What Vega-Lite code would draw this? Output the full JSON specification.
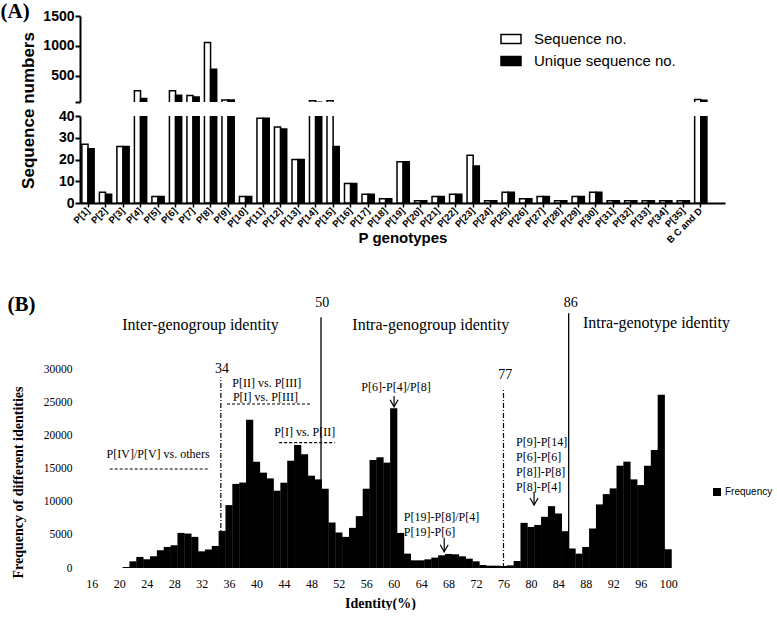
{
  "$schema": "https://vega.github.io/schema/vega-lite/v6.json",
  "padding": 0,
  "spacing": 14,
  "bounds": "flush",
  "config": {
    "view": {"stroke": null},
    "axis": {"labelColor": "black", "titleColor": "black", "domainColor": "black", "tickColor": "black", "grid": false},
    "legend": {"labelColor": "black"}
  },
  "resolve": {
    "scale": {"x": "independent", "y": "independent", "fill": "independent"},
    "legend": {"fill": "independent"},
    "axis": {"x": "independent", "y": "independent"}
  },
  "datasets": {
    "seqs": [
      {"g": "P[1]", "s": "Sequence no.", "n": 27}, {"g": "P[1]", "s": "Unique sequence no.", "n": 25},
      {"g": "P[2]", "s": "Sequence no.", "n": 5}, {"g": "P[2]", "s": "Unique sequence no.", "n": 4},
      {"g": "P[3]", "s": "Sequence no.", "n": 26}, {"g": "P[3]", "s": "Unique sequence no.", "n": 26},
      {"g": "P[4]", "s": "Sequence no.", "n": 242}, {"g": "P[4]", "s": "Unique sequence no.", "n": 114},
      {"g": "P[5]", "s": "Sequence no.", "n": 3}, {"g": "P[5]", "s": "Unique sequence no.", "n": 3},
      {"g": "P[6]", "s": "Sequence no.", "n": 242}, {"g": "P[6]", "s": "Unique sequence no.", "n": 170},
      {"g": "P[7]", "s": "Sequence no.", "n": 164}, {"g": "P[7]", "s": "Unique sequence no.", "n": 141},
      {"g": "P[8]", "s": "Sequence no.", "n": 1053}, {"g": "P[8]", "s": "Unique sequence no.", "n": 606},
      {"g": "P[9]", "s": "Sequence no.", "n": 90}, {"g": "P[9]", "s": "Unique sequence no.", "n": 90},
      {"g": "P[10]", "s": "Sequence no.", "n": 3}, {"g": "P[10]", "s": "Unique sequence no.", "n": 3},
      {"g": "P[11]", "s": "Sequence no.", "n": 39}, {"g": "P[11]", "s": "Unique sequence no.", "n": 39},
      {"g": "P[12]", "s": "Sequence no.", "n": 35}, {"g": "P[12]", "s": "Unique sequence no.", "n": 34},
      {"g": "P[13]", "s": "Sequence no.", "n": 20}, {"g": "P[13]", "s": "Unique sequence no.", "n": 20},
      {"g": "P[14]", "s": "Sequence no.", "n": 75}, {"g": "P[14]", "s": "Unique sequence no.", "n": 50},
      {"g": "P[15]", "s": "Sequence no.", "n": 75}, {"g": "P[15]", "s": "Unique sequence no.", "n": 26},
      {"g": "P[16]", "s": "Sequence no.", "n": 9}, {"g": "P[16]", "s": "Unique sequence no.", "n": 9},
      {"g": "P[17]", "s": "Sequence no.", "n": 4}, {"g": "P[17]", "s": "Unique sequence no.", "n": 4},
      {"g": "P[18]", "s": "Sequence no.", "n": 2}, {"g": "P[18]", "s": "Unique sequence no.", "n": 2},
      {"g": "P[19]", "s": "Sequence no.", "n": 19}, {"g": "P[19]", "s": "Unique sequence no.", "n": 19},
      {"g": "P[20]", "s": "Sequence no.", "n": 1}, {"g": "P[20]", "s": "Unique sequence no.", "n": 1},
      {"g": "P[21]", "s": "Sequence no.", "n": 3}, {"g": "P[21]", "s": "Unique sequence no.", "n": 3},
      {"g": "P[22]", "s": "Sequence no.", "n": 4}, {"g": "P[22]", "s": "Unique sequence no.", "n": 4},
      {"g": "P[23]", "s": "Sequence no.", "n": 22}, {"g": "P[23]", "s": "Unique sequence no.", "n": 17},
      {"g": "P[24]", "s": "Sequence no.", "n": 1}, {"g": "P[24]", "s": "Unique sequence no.", "n": 1},
      {"g": "P[25]", "s": "Sequence no.", "n": 5}, {"g": "P[25]", "s": "Unique sequence no.", "n": 5},
      {"g": "P[26]", "s": "Sequence no.", "n": 2}, {"g": "P[26]", "s": "Unique sequence no.", "n": 2},
      {"g": "P[27]", "s": "Sequence no.", "n": 3}, {"g": "P[27]", "s": "Unique sequence no.", "n": 3},
      {"g": "P[28]", "s": "Sequence no.", "n": 1}, {"g": "P[28]", "s": "Unique sequence no.", "n": 1},
      {"g": "P[29]", "s": "Sequence no.", "n": 3}, {"g": "P[29]", "s": "Unique sequence no.", "n": 3},
      {"g": "P[30]", "s": "Sequence no.", "n": 5}, {"g": "P[30]", "s": "Unique sequence no.", "n": 5},
      {"g": "P[31]", "s": "Sequence no.", "n": 1}, {"g": "P[31]", "s": "Unique sequence no.", "n": 1},
      {"g": "P[32]", "s": "Sequence no.", "n": 1}, {"g": "P[32]", "s": "Unique sequence no.", "n": 1},
      {"g": "P[33]", "s": "Sequence no.", "n": 1}, {"g": "P[33]", "s": "Unique sequence no.", "n": 1},
      {"g": "P[34]", "s": "Sequence no.", "n": 1}, {"g": "P[34]", "s": "Unique sequence no.", "n": 1},
      {"g": "P[35]", "s": "Sequence no.", "n": 1}, {"g": "P[35]", "s": "Unique sequence no.", "n": 1},
      {"g": "B C and D", "s": "Sequence no.", "n": 95}, {"g": "B C and D", "s": "Unique sequence no.", "n": 85}
    ],
    "ident": [
      {"identity": 21, "freq": 150}, {"identity": 22, "freq": 1010}, {"identity": 23, "freq": 1670},
      {"identity": 24, "freq": 1310}, {"identity": 25, "freq": 1770}, {"identity": 26, "freq": 2680},
      {"identity": 27, "freq": 3180}, {"identity": 28, "freq": 3430}, {"identity": 29, "freq": 5300},
      {"identity": 30, "freq": 5200}, {"identity": 31, "freq": 4700}, {"identity": 32, "freq": 2520},
      {"identity": 33, "freq": 2780}, {"identity": 34, "freq": 3330}, {"identity": 35, "freq": 5600},
      {"identity": 36, "freq": 9500}, {"identity": 37, "freq": 12700}, {"identity": 38, "freq": 12900},
      {"identity": 39, "freq": 22400}, {"identity": 40, "freq": 16060}, {"identity": 41, "freq": 14400},
      {"identity": 42, "freq": 13530}, {"identity": 43, "freq": 11670}, {"identity": 44, "freq": 12880},
      {"identity": 45, "freq": 16200}, {"identity": 46, "freq": 18580}, {"identity": 47, "freq": 17170},
      {"identity": 48, "freq": 13940}, {"identity": 49, "freq": 13380}, {"identity": 50, "freq": 11970},
      {"identity": 51, "freq": 6870}, {"identity": 52, "freq": 5350}, {"identity": 53, "freq": 4700},
      {"identity": 54, "freq": 6060}, {"identity": 55, "freq": 7830}, {"identity": 56, "freq": 11970},
      {"identity": 57, "freq": 16310}, {"identity": 58, "freq": 16720}, {"identity": 59, "freq": 15910},
      {"identity": 60, "freq": 24140}, {"identity": 61, "freq": 5300}, {"identity": 62, "freq": 2170},
      {"identity": 63, "freq": 1160}, {"identity": 64, "freq": 1160}, {"identity": 65, "freq": 1310},
      {"identity": 66, "freq": 1570}, {"identity": 67, "freq": 1920}, {"identity": 68, "freq": 2120},
      {"identity": 69, "freq": 2070}, {"identity": 70, "freq": 1770}, {"identity": 71, "freq": 1410},
      {"identity": 72, "freq": 1010}, {"identity": 73, "freq": 450}, {"identity": 74, "freq": 350},
      {"identity": 75, "freq": 350}, {"identity": 76, "freq": 300}, {"identity": 77, "freq": 400},
      {"identity": 78, "freq": 1060}, {"identity": 79, "freq": 6820}, {"identity": 80, "freq": 6200},
      {"identity": 81, "freq": 6500}, {"identity": 82, "freq": 7730}, {"identity": 83, "freq": 9340},
      {"identity": 84, "freq": 8230}, {"identity": 85, "freq": 5560}, {"identity": 86, "freq": 2950},
      {"identity": 87, "freq": 2170}, {"identity": 88, "freq": 3180}, {"identity": 89, "freq": 5960},
      {"identity": 90, "freq": 9600}, {"identity": 91, "freq": 11160}, {"identity": 92, "freq": 12020},
      {"identity": 93, "freq": 15450}, {"identity": 94, "freq": 16060}, {"identity": 95, "freq": 13380},
      {"identity": 96, "freq": 12520}, {"identity": 97, "freq": 15450}, {"identity": 98, "freq": 17830},
      {"identity": 99, "freq": 26160}, {"identity": 100, "freq": 2830}
    ]
  },
  "vconcat": [
    {
      "width": 645,
      "height": 86,
      "data": {"name": "seqs"},
      "mark": {"type": "bar", "clip": true, "stroke": "black", "strokeWidth": 1.5},
      "encoding": {
        "x": {"field": "g", "type": "nominal", "sort": null, "scale": {"paddingInner": 0.3, "paddingOuter": 0.57, "align": 0.094}, "axis": null},
        "xOffset": {"field": "s", "type": "nominal", "sort": ["Sequence no.", "Unique sequence no."]},
        "y": {
          "field": "n", "type": "quantitative",
          "scale": {"domain": [55, 1500], "zero": false, "nice": false},
          "axis": {
            "values": [55, 500, 1000, 1500], "labelExpr": "datum.value < 100 ? '' : datum.label", "format": "d",
            "labelFont": "Liberation Sans", "labelFontWeight": "bold", "labelFontSize": 14, "labelPadding": 1,
            "domainWidth": 2, "tickWidth": 2, "tickSize": 5,
            "title": "(A)", "titleAngle": 0, "titleX": -80, "titleY": -16, "titleAlign": "left", "titleBaseline": "top",
            "titleFont": "Liberation Serif", "titleFontSize": 21, "titleFontWeight": "bold"
          }
        },
        "fill": {
          "field": "s", "type": "nominal",
          "scale": {"domain": ["Sequence no.", "Unique sequence no."], "range": ["white", "black"]},
          "legend": {
            "title": null, "orient": "none", "legendX": 420, "legendY": 12, "padding": 0,
            "symbolType": "M-1,-0.45H1V0.45H-1Z", "symbolSize": 400, "symbolStrokeColor": "black", "symbolStrokeWidth": 1.5,
            "labelFont": "Liberation Sans", "labelFontSize": 15, "labelOffset": 12, "rowPadding": 3, "labelColor": "black"
          }
        }
      }
    },
    {
      "width": 645,
      "height": 87,
      "data": {"name": "seqs"},
      "mark": {"type": "bar", "clip": true, "stroke": "black", "strokeWidth": 1.5},
      "encoding": {
        "x": {
          "field": "g", "type": "nominal", "sort": null,
          "scale": {"paddingInner": 0.3, "paddingOuter": 0.57, "align": 0.094},
          "axis": {
            "labelAngle": -45, "labelAlign": "right", "labelBaseline": "middle", "labelOverlap": false,
            "labelFont": "Liberation Sans", "labelFontWeight": "bold", "labelFontSize": 9.5, "labelPadding": 2,
            "tickSize": 4, "tickWidth": 1.5, "domainWidth": 2,
            "title": "P genotypes", "titleFont": "Liberation Sans", "titleFontWeight": "bold", "titleFontSize": 15,
            "titleY": 34, "titleBaseline": "middle"
          }
        },
        "xOffset": {"field": "s", "type": "nominal", "sort": ["Sequence no.", "Unique sequence no."]},
        "y": {
          "field": "n", "type": "quantitative",
          "scale": {"domain": [0, 40], "nice": false},
          "axis": {
            "values": [0, 10, 20, 30, 40], "format": "d",
            "labelFont": "Liberation Sans", "labelFontWeight": "bold", "labelFontSize": 14, "labelPadding": 1,
            "domainWidth": 2, "tickWidth": 2, "tickSize": 5,
            "title": "Sequence numbers", "titleX": -52, "titleY": -6, "titleAngle": -90, "titleAlign": "center", "titleBaseline": "middle",
            "titleFont": "Liberation Sans", "titleFontSize": 17, "titleFontWeight": "bold"
          }
        },
        "fill": {
          "field": "s", "type": "nominal",
          "scale": {"domain": ["Sequence no.", "Unique sequence no."], "range": ["white", "black"]},
          "legend": null
        }
      }
    },
    {
      "width": 600,
      "height": 351,
      "encoding": {
        "x": {
          "field": "identity", "type": "quantitative",
          "scale": {"domain": [15, 101], "nice": false, "zero": false},
          "axis": {
            "values": [16, 20, 24, 28, 32, 36, 40, 44, 48, 52, 56, 60, 64, 68, 72, 76, 80, 84, 88, 92, 96, 100],
            "domain": false, "ticks": false, "labelPadding": 10, "labelOverlap": false, "labelFlush": false,
            "labelFont": "Liberation Serif", "labelFontSize": 12,
            "title": "Identity(%)", "titleFont": "Liberation Serif", "titleFontSize": 14, "titleFontWeight": "bold", "titlePadding": 7
          }
        },
        "y": {
          "field": "freq", "type": "quantitative",
          "scale": {"domain": [0, 53000], "nice": false},
          "axis": {
            "values": [0, 5000, 10000, 15000, 20000, 25000, 30000], "format": "d",
            "domain": false, "ticks": false, "labelPadding": 8, "labelOverlap": false,
            "labelFont": "Liberation Serif", "labelFontSize": 11.5,
            "title": "Frequency of different identities", "titleFont": "Liberation Serif", "titleFontSize": 14, "titleFontWeight": "bold",
            "titleX": -62, "titleY": 265, "titleAngle": -90, "titleAlign": "center", "titleBaseline": "middle"
          }
        }
      },
      "layer": [
        {
          "data": {"values": [{"identity": 34.8, "freq": 0, "freq2": 28800}, {"identity": 76.0, "freq": 0, "freq2": 26880}]},
          "mark": {"type": "rule", "color": "black", "strokeWidth": 1.2, "strokeDash": [5, 2, 1, 2]},
          "encoding": {"y2": {"field": "freq2"}}
        },
        {
          "data": {"name": "ident"},
          "mark": {"type": "bar", "width": 7.2},
          "encoding": {
            "fill": {
              "datum": "Frequency",
              "scale": {"domain": ["Frequency"], "range": ["black"]},
              "legend": {
                "title": null, "orient": "none", "legendX": 632, "legendY": 270, "padding": 0,
                "symbolType": "square", "symbolSize": 64, "labelOffset": 3,
                "labelFont": "Liberation Sans", "labelFontSize": 10, "labelColor": "black"
              }
            }
          }
        },
        {
          "data": {"values": [{"identity": 49.4, "freq": 0, "freq2": 37860}, {"identity": 85.5, "freq": 0, "freq2": 38460}]},
          "mark": {"type": "rule", "color": "black", "strokeWidth": 1.3},
          "encoding": {"y2": {"field": "freq2"}}
        },
        {
          "data": {"values": [{"identity": 18.6, "identity2": 33.2, "freq": 14950}, {"identity": 35.7, "identity2": 48.1, "freq": 24760}, {"identity": 43.3, "identity2": 51.4, "freq": 18920}]},
          "mark": {"type": "rule", "color": "black", "strokeWidth": 1.2, "strokeDash": [3, 2]},
          "encoding": {"x2": {"field": "identity2"}}
        },
        {
          "data": {"values": [{"identity": 60.05, "freq": 25970, "freq2": 24360}, {"identity": 67.36, "freq": 4480, "freq2": 2460}, {"identity": 80.46, "freq": 11520, "freq2": 9510}]},
          "mark": {"type": "rule", "color": "black", "strokeWidth": 1.2},
          "encoding": {"y2": {"field": "freq2"}}
        },
        {
          "data": {"values": [{"identity": 60.05, "freq": 24360}, {"identity": 67.36, "freq": 2460}, {"identity": 80.46, "freq": 9510}]},
          "mark": {"type": "point", "shape": "M-0.57,-1L0,0L0.57,-1", "size": 196, "filled": false, "stroke": "black", "strokeWidth": 1.2, "opacity": 1}
        },
        {
          "data": {"values": [
            {"identity": 31.84, "freq": 36700, "t": "Inter-genogroup identity"},
            {"identity": 65.4, "freq": 36700, "t": "Intra-genogroup identity"},
            {"identity": 98.3, "freq": 36950, "t": "Intra-genotype identity"}
          ]},
          "mark": {"type": "text", "font": "Liberation Serif", "fontSize": 16, "align": "center", "baseline": "middle", "color": "black"},
          "encoding": {"text": {"field": "t"}}
        },
        {
          "data": {"values": [
            {"identity": 49.6, "freq": 40060, "t": "50"},
            {"identity": 85.8, "freq": 39970, "t": "86"},
            {"identity": 34.97, "freq": 30000, "t": "34"},
            {"identity": 76.24, "freq": 29140, "t": "77"}
          ]},
          "mark": {"type": "text", "font": "Liberation Serif", "fontSize": 14, "align": "center", "baseline": "middle", "color": "black"},
          "encoding": {"text": {"field": "t"}}
        },
        {
          "data": {"values": [
            {"identity": 25.65, "freq": 17210, "t": "P[IV]/P[V] vs. others"},
            {"identity": 41.5, "freq": 27890, "t": "P[II] vs. P[III]"},
            {"identity": 41.3, "freq": 25870, "t": "P[I] vs. P[III]"},
            {"identity": 47.03, "freq": 20490, "t": "P[I] vs. P[II]"},
            {"identity": 60.33, "freq": 27290, "t": "P[6]-P[4]/P[8]"}
          ]},
          "mark": {"type": "text", "font": "Liberation Serif", "fontSize": 12, "align": "center", "baseline": "middle", "color": "black"},
          "encoding": {"text": {"field": "t"}}
        },
        {
          "data": {"values": [
            {"identity": 61.48, "freq": 7750, "t": "P[19]-P[8]/P[4]"},
            {"identity": 61.48, "freq": 5480, "t": "P[19]-P[6]"},
            {"identity": 77.82, "freq": 19070, "t": "P[9]-P[14]"},
            {"identity": 77.82, "freq": 16810, "t": "P[6]-P[6]"},
            {"identity": 77.82, "freq": 14540, "t": "P[8]]-P[8]"},
            {"identity": 77.82, "freq": 12280, "t": "P[8]-P[4]"}
          ]},
          "mark": {"type": "text", "font": "Liberation Serif", "fontSize": 12, "align": "left", "baseline": "middle", "color": "black"},
          "encoding": {"text": {"field": "t"}}
        },
        {
          "data": {"values": [{"identity": 3.7, "freq": 39710, "t": "(B)"}]},
          "mark": {"type": "text", "font": "Liberation Serif", "fontSize": 21, "fontWeight": "bold", "align": "left", "baseline": "middle", "color": "black"},
          "encoding": {"text": {"field": "t"}}
        }
      ]
    }
  ]
}
